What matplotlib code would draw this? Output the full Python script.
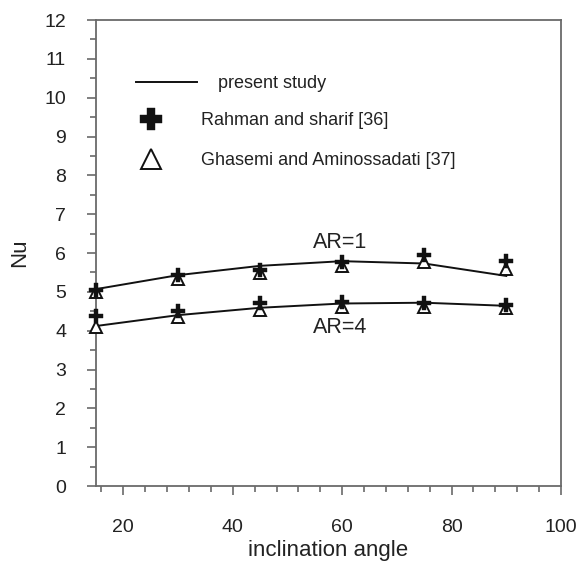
import matplotlib
matplotlib.use("Agg")
import matplotlib.pyplot as plt
from matplotlib.ticker import MultipleLocator
from matplotlib.lines import Line2D

plt.rcParams['font.family'] = ['Liberation Sans', 'DejaVu Sans']

angles = [15, 30, 45, 60, 75, 90]
present_ar1 = [5.07, 5.43, 5.67, 5.79, 5.73, 5.41]
present_ar4 = [4.12, 4.40, 4.59, 4.70, 4.72, 4.64]
rahman_ar1 = [5.05, 5.43, 5.56, 5.76, 5.95, 5.80]
rahman_ar4 = [4.38, 4.51, 4.70, 4.75, 4.70, 4.66]
ghasemi_ar1 = [5.00, 5.32, 5.48, 5.66, 5.78, 5.58]
ghasemi_ar4 = [4.10, 4.36, 4.53, 4.62, 4.60, 4.58]

labels = ["present study", "Rahman and sharif [36]", "Ghasemi and Aminossadati [37]"]

fig = plt.figure(figsize=(5.87, 5.62), dpi=100)
ax = fig.add_axes([0.1635, 0.1352, 0.7922, 0.8292])

txt = '#222222'
spine_c = '#6a6a6a'
mk = '#111111'

for pres, rah, gha in [(present_ar1, rahman_ar1, ghasemi_ar1), (present_ar4, rahman_ar4, ghasemi_ar4)]:
    ax.plot(angles, pres, color=mk, lw=1.4, zorder=2)
    ax.plot(angles, gha, linestyle='none', marker='^', markersize=8.5, markerfacecolor='white',
            markeredgecolor=mk, markeredgewidth=1.4, zorder=3, clip_on=False)
    ax.plot(angles, rah, linestyle='none', marker='P', markersize=9.5, color=mk,
            markeredgewidth=0.3, zorder=4, clip_on=False)

ax.text(59.6, 6.26, "AR=1", fontsize=15.5, color=txt, ha='center', va='center')
ax.text(59.6, 4.09, "AR=4", fontsize=15.5, color=txt, ha='center', va='center')

h_line = Line2D([], [], color=mk, lw=1.4)
h_plus = Line2D([], [], linestyle='none', marker='P', markersize=9.5, color=mk, markeredgewidth=0.3)
h_tri = Line2D([], [], linestyle='none', marker='^', markersize=8.5, markerfacecolor='white',
               markeredgecolor=mk, markeredgewidth=1.4)

leg1 = ax.legend([h_line], labels[:1], loc='center left', bbox_to_anchor=(0.086, 0.863),
                 frameon=False, fontsize=13, handlelength=3.4, handletextpad=1.15,
                 borderpad=0, borderaxespad=0)
for t in leg1.get_texts():
    t.set_color(txt)
ax.add_artist(leg1)

leg2 = ax.legend([h_plus, h_tri], labels[1:], loc='center left', bbox_to_anchor=(0.09, 0.741),
                 frameon=False, fontsize=13, handlelength=1.5, handletextpad=2.0,
                 labelspacing=1.25, borderpad=0, borderaxespad=0, markerscale=1.7)
for t in leg2.get_texts():
    t.set_color(txt)

ax.set_xlim(15, 100)
ax.set_ylim(0, 12)
ax.xaxis.set_major_locator(MultipleLocator(20))
ax.xaxis.set_minor_locator(MultipleLocator(4))
ax.yaxis.set_major_locator(MultipleLocator(1))
ax.yaxis.set_minor_locator(MultipleLocator(0.5))

for s in ax.spines.values():
    s.set_color(spine_c)
    s.set_linewidth(1.3)

ax.tick_params(which='major', direction='out', length=6.5, width=1.2, color=spine_c,
               labelsize=14, labelcolor=txt)
ax.tick_params(which='minor', direction='out', length=4, width=1.2, color=spine_c)
ax.tick_params(axis='x', which='major', pad=17)
ax.tick_params(axis='y', which='major', pad=15)

ax.set_xlabel("inclination angle", fontsize=16, color=txt, labelpad=3)
ax.set_ylabel("Nu", fontsize=16, color=txt, labelpad=10)

fig.savefig("out.png", dpi=100)
